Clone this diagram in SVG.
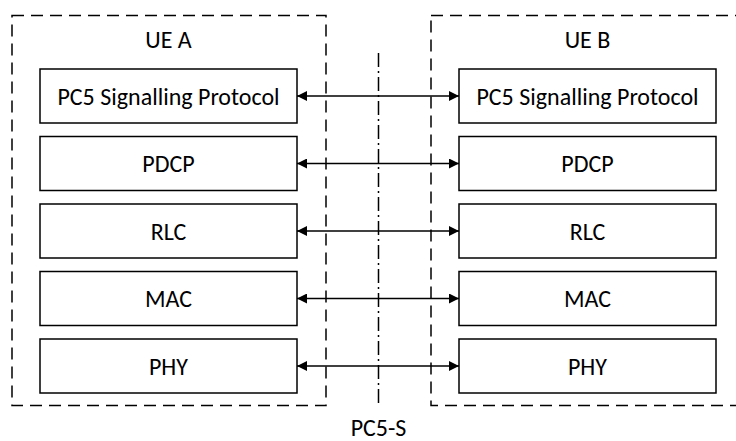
<svg xmlns="http://www.w3.org/2000/svg" width="736" height="441" viewBox="0 0 736 441">
<style>
.ue{fill:none;stroke:#000;stroke-width:1.5;stroke-dasharray:12 7}
.box{fill:#fff;stroke:#000;stroke-width:1.5}
.t{font-family:"Carlito","Liberation Sans",Arial,sans-serif;font-size:24px;fill:#000;text-anchor:middle}
.conn{stroke:#000;stroke-width:1.5;fill:none;marker-start:url(#ah);marker-end:url(#ah)}
</style>
<defs>
<marker id="ah" viewBox="0 0 10 10" refX="10" refY="5" markerWidth="10" markerHeight="10" markerUnits="userSpaceOnUse" orient="auto-start-reverse">
<path d="M0,0 L10,5 L0,10 Z" fill="#000"/>
</marker>
</defs>
<rect width="736" height="441" fill="#fff"/>
<g id="ueA">
<rect class="ue" x="12" y="15.5" width="314" height="390"/>
<text class="t" x="168.5" y="48">UE A</text>
</g>
<g id="ueB">
<rect class="ue" x="431" y="15.5" width="312" height="390"/>
<text class="t" x="587.5" y="48">UE B</text>
</g>
<g id="a_pc5"><rect class="box" x="40" y="69" width="257" height="54"/><text class="t" x="168.5" y="104.5">PC5 Signalling Protocol</text></g>
<g id="a_pdcp"><rect class="box" x="40" y="136.5" width="257" height="54"/><text class="t" x="168.5" y="172">PDCP</text></g>
<g id="a_rlc"><rect class="box" x="40" y="204" width="257" height="54"/><text class="t" x="168.5" y="239.5">RLC</text></g>
<g id="a_mac"><rect class="box" x="40" y="271.5" width="257" height="54"/><text class="t" x="168.5" y="307">MAC</text></g>
<g id="a_phy"><rect class="box" x="40" y="339" width="257" height="54"/><text class="t" x="168.5" y="374.5">PHY</text></g>
<g id="b_pc5"><rect class="box" x="459" y="69" width="257" height="54"/><text class="t" x="587.5" y="104.5">PC5 Signalling Protocol</text></g>
<g id="b_pdcp"><rect class="box" x="459" y="136.5" width="257" height="54"/><text class="t" x="587.5" y="172">PDCP</text></g>
<g id="b_rlc"><rect class="box" x="459" y="204" width="257" height="54"/><text class="t" x="587.5" y="239.5">RLC</text></g>
<g id="b_mac"><rect class="box" x="459" y="271.5" width="257" height="54"/><text class="t" x="587.5" y="307">MAC</text></g>
<g id="b_phy"><rect class="box" x="459" y="339" width="257" height="54"/><text class="t" x="587.5" y="374.5">PHY</text></g>
<g id="pc5s">
<line x1="378.5" y1="53" x2="378.5" y2="406" stroke="#000" stroke-width="1.5" stroke-dasharray="14 4 2 4"/>
<text class="t" x="378.5" y="436">PC5-S</text>
</g>
<g id="connectors">
<line class="conn" x1="297" y1="96" x2="459" y2="96"/>
<line class="conn" x1="297" y1="163.5" x2="459" y2="163.5"/>
<line class="conn" x1="297" y1="231" x2="459" y2="231"/>
<line class="conn" x1="297" y1="298.5" x2="459" y2="298.5"/>
<line class="conn" x1="297" y1="366" x2="459" y2="366"/>
</g>
</svg>
